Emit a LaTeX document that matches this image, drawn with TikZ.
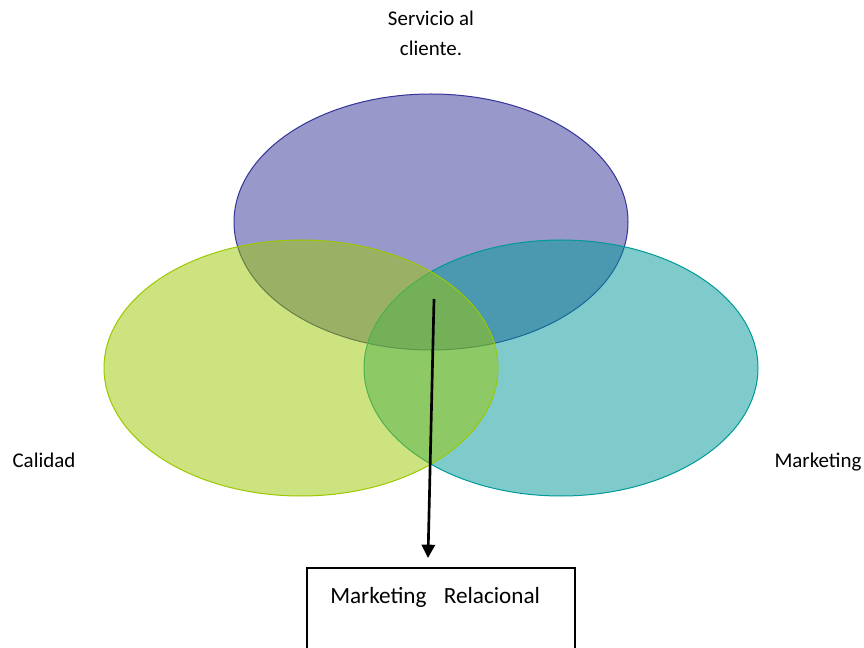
\documentclass[tikz,border=0pt]{standalone}
\usepackage{fontspec}
\setmainfont{Carlito}
\usetikzlibrary{shapes.geometric,arrows.meta}
\definecolor{purpbase}{HTML}{333399}
\definecolor{greenbase}{HTML}{9BC900}
\definecolor{tealbase}{HTML}{009999}
\begin{document}
\begin{tikzpicture}[x=0.75pt,y=-0.75pt,
  venn/.style={ellipse, inner sep=0pt, minimum width=295.5pt, minimum height=192pt, line width=0.75pt, fill opacity=0.5},
  lbl/.style={anchor=base, inner sep=0pt, font=\fontsize{15.7}{22.5}\selectfont},
  boxlbl/.style={anchor=base west, inner sep=0pt, font=\fontsize{17.4}{22}\selectfont},
  conn/.style={line width=2pt, -{Triangle[length=10pt,width=10pt]}}]
\useasboundingbox (0,0) rectangle (864,648);
\clip (0,0) rectangle (864,648);
\fill[white] (0,0) rectangle (864,648);
\node[venn, draw=purpbase, fill=purpbase] (serv) at (431,222) {};
\node[venn, draw=tealbase, fill=tealbase] (mark) at (561,368) {};
\node[venn, draw=greenbase, fill=greenbase] (cal) at (301,368) {};
\node[lbl] (t1) at (431,26) {Servicio al};
\node[lbl] (t2) at (431,56) {cliente.};
\node[lbl] (tcal) at (44,467) {Calidad};
\node[lbl] (tmark) at (818,467) {Marketing};
\draw[line width=1.5pt] (307,568) rectangle (575,665);
\node[boxlbl] (box) at (330,603) {Marketing\hspace{13pt}Relacional};
\coordinate (start) at (434,299);
\coordinate (tip) at (428,558);
\draw[conn] (start) -- (tip);
\end{tikzpicture}
\end{document}
